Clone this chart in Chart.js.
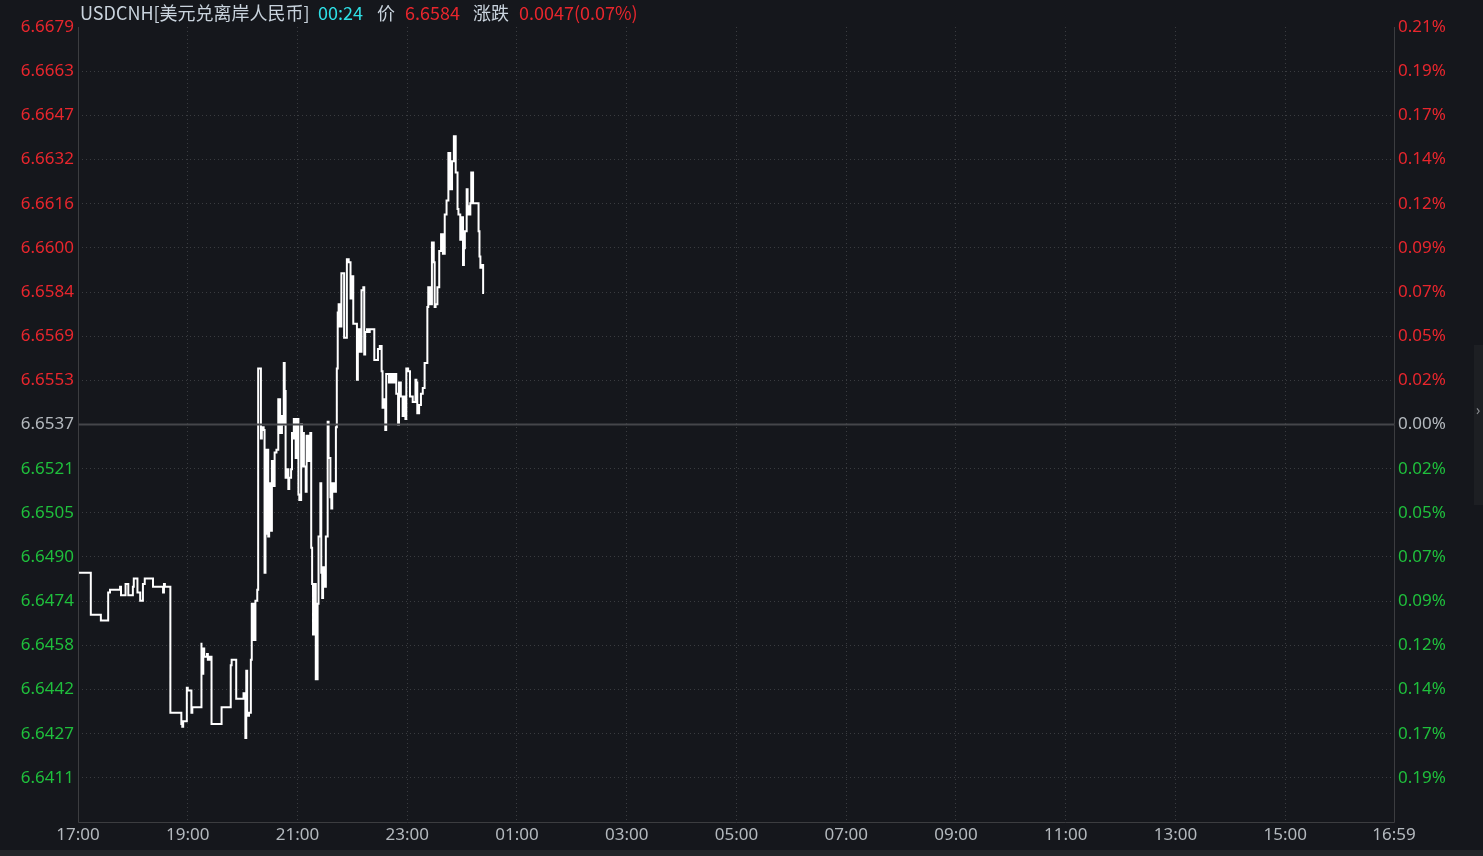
<!DOCTYPE html>
<html>
<head>
<meta charset="utf-8">
<script src="https://cdn.jsdelivr.net/npm/chart.js@4/dist/chart.umd.min.js"></script>
<style>
  html, body { margin: 0; padding: 0; background: #15171c; }
  #wrap { width: 1483px; height: 856px; }
</style>
</head>
<body>
<div id="wrap"><canvas id="fx"></canvas></div>
<script>
// ---- data ----
const symbol = "USDCNH";
const symbolName = "美元兑离岸人民币";
const prevClose = 6.6537;
const topPrice = 6.6679;

// minutes since 17:00
const minutes = [
  0,14,14,25,25,33,33,35,36,46,
  47,52,55,57,60,61,65,68,69,71,
  73,79,82,83,93,94,95,101,101,113,
  114,115,117,119,120,124,125,126,135,135,
  137,138,141,142,144,146,146,157,157,167,
  168,173,175,181,183,184,185,186,187,189,
  190,191,192,194,196,197,198,200,201,203,
  204,205,206,208,209,210,212,213,214,215,
  217,219,221,223,224,225,226,227,228,230,
  231,233,234,235,236,238,239,241,242,244,
  245,246,247,249,250,252,254,255,256,257,
  259,260,262,263,265,266,267,268,270,271,
  273,274,276,277,278,280,282,283,284,285,
  286,288,291,292,294,296,298,299,301,303,
  305,306,308,310,312,313,314,316,317,319,
  321,324,326,328,330,332,333,334,336,337,
  338,340,342,344,346,348,350,351,353,355,
  356,358,359,361,363,365,366,369,370,371,
  373,375,377,379,382,383,385,387,389,390,
  391,393,395,397,399,401,403,405,407,408,
  409,411,413,415,416,418,420,421,422,423,
  425,426,427,429,430,432,433,436,438,439,
  440,442,443,444
];

const prices = [
  6.6484,6.6484,6.6469,6.6469,6.6467,6.6467,6.6473,6.6477,6.6478,6.6478,
  6.6479,6.6476,6.6480,6.6476,6.6476,6.6479,6.6482,6.6477,6.6474,6.6474,
  6.6480,6.6482,6.6482,6.6479,6.6479,6.6477,6.6480,6.6479,6.6434,6.6434,
  6.6430,6.6429,6.6431,6.6431,6.6443,6.6442,6.6434,6.6436,6.6436,6.6459,
  6.6448,6.6457,6.6454,6.6455,6.6453,6.6454,6.6430,6.6430,6.6436,6.6436,
  6.6451,6.6453,6.6439,6.6439,6.6441,6.6425,6.6449,6.6434,6.6433,6.6434,
  6.6453,6.6473,6.6473,6.6460,6.6474,6.6478,6.6557,6.6557,6.6532,6.6536,
  6.6535,6.6484,6.6498,6.6528,6.6497,6.6516,6.6499,6.6524,6.6523,6.6515,
  6.6527,6.6528,6.6546,6.6534,6.6540,6.6537,6.6559,6.6549,6.6518,6.6521,
  6.6514,6.6518,6.6521,6.6534,6.6532,6.6539,6.6525,6.6539,6.6512,6.6510,
  6.6537,6.6522,6.6534,6.6522,6.6513,6.6533,6.6524,6.6534,6.6493,6.6480,
  6.6462,6.6480,6.6446,6.6473,6.6497,6.6516,6.6484,6.6475,6.6486,6.6479,
  6.6497,6.6538,6.6525,6.6511,6.6507,6.6516,6.6513,6.6536,6.6557,6.6577,
  6.6580,6.6572,6.6591,6.6568,6.6568,6.6596,6.6595,6.6582,6.6590,6.6573,
  6.6573,6.6553,6.6571,6.6563,6.6585,6.6586,6.6562,6.6570,6.6571,6.6570,
  6.6571,6.6571,6.6560,6.6560,6.6564,6.6565,6.6556,6.6543,6.6546,6.6535,
  6.6555,6.6555,6.6552,6.6555,6.6552,6.6555,6.6548,6.6537,6.6552,6.6547,
  6.6540,6.6547,6.6539,6.6557,6.6556,6.6547,6.6547,6.6545,6.6553,6.6552,
  6.6541,6.6544,6.6548,6.6550,6.6559,6.6579,6.6586,6.6580,6.6602,6.6595,
  6.6579,6.6580,6.6586,6.6599,6.6605,6.6598,6.6612,6.6617,6.6634,6.6621,
  6.6621,6.6631,6.6640,6.6627,6.6614,6.6612,6.6603,6.6611,6.6594,6.6600,
  6.6606,6.6621,6.6615,6.6612,6.6616,6.6627,6.6616,6.6616,6.6616,6.6606,
  6.6597,6.6593,6.6594,6.6584
];

const priceLabels = ['6.6679','6.6663','6.6647','6.6632','6.6616','6.6600','6.6584','6.6569','6.6553',
  '6.6537','6.6521','6.6505','6.6490','6.6474','6.6458','6.6442','6.6427','6.6411'];
const pctLabels = ['0.21%','0.19%','0.17%','0.14%','0.12%','0.09%','0.07%','0.05%','0.02%',
  '0.00%','0.02%','0.05%','0.07%','0.09%','0.12%','0.14%','0.17%','0.19%'];
const timeLabels = ['17:00','19:00','21:00','23:00','01:00','03:00','05:00','07:00',
  '09:00','11:00','13:00','15:00','16:59'];
const tickMinutes = [0,120,240,360,480,600,720,840,960,1080,1200,1320,1439];

// ---- derived ----
const step = (topPrice - prevClose) / 9;
const baseIdx = priceLabels.indexOf(prevClose.toFixed(4));
const RED = '#e8262d', GREEN = '#1fbf3c', GRAY = '#b4b9be';
const BG = '#15171c', FRAME = '#3c3d40', DOTS = '#3a3c40';
const labelFont = { family: '"Noto Sans", "Liberation Sans", sans-serif', size: 17 };

const points = minutes.map((m, i) => ({ x: m, y: prices[i] }));

function yTicks(scale) {
  scale.ticks = priceLabels.map((_, i) => ({ value: topPrice - i * step }));
}
function tickColor(ctx) {
  if (ctx.index < baseIdx) return RED;
  if (ctx.index > baseIdx) return GREEN;
  return GRAY;
}
function hhmm(m) {
  const t = (17 * 60 + m) % 1440;
  return String(Math.floor(t / 60)).padStart(2, '0') + ':' + String(t % 60).padStart(2, '0');
}

// background, frame, baseline, header
const decor = {
  id: 'decor',
  beforeDraw(chart) {
    const c = chart.ctx;
    c.save();
    c.fillStyle = BG;
    c.fillRect(0, 0, chart.width, chart.height);
    c.fillStyle = '#222428';
    c.fillRect(0, chart.height - 6, chart.width, 6);
    c.fillStyle = '#1d1f23';
    c.fillRect(chart.width - 9, 345, 9, 160);
    c.restore();
  },
  afterDatasetsDraw(chart) {
    const c = chart.ctx, a = chart.chartArea;
    const y = chart.scales.y.getPixelForValue(prevClose);
    c.save();
    c.strokeStyle = '#45464a';
    c.lineWidth = 2;
    c.beginPath();
    c.moveTo(a.left, y);
    c.lineTo(a.right, y);
    c.stroke();
    c.strokeStyle = FRAME;
    c.lineWidth = 1;
    c.beginPath();
    c.moveTo(a.left + 0.5, a.top);
    c.lineTo(a.left + 0.5, a.bottom + 0.5);
    c.lineTo(a.right + 0.5, a.bottom + 0.5);
    c.lineTo(a.right + 0.5, a.top);
    c.stroke();

    // header
    const last = prices[prices.length - 1];
    const diff = last - prevClose;
    const parts = [
      [symbol + '[' + symbolName + ']', '#c9d3dd', 80],
      [hhmm(minutes[minutes.length - 1]), '#2fe0e6', 318],
      ['价', '#c9d3dd', 377],
      [last.toFixed(4), diff >= 0 ? RED : GREEN, 405],
      ['涨跌', '#c9d3dd', 473],
      [diff.toFixed(4) + '(' + (diff / prevClose * 100).toFixed(2) + '%)', diff >= 0 ? RED : GREEN, 519]
    ];
    c.font = '18px "Noto Sans CJK SC", sans-serif';
    c.textBaseline = 'middle';
    let x = 0;
    parts.forEach(([t, col, px]) => {
      x = Math.max(px, x);
      c.fillStyle = col;
      c.fillText(t, x, 13);
      x += c.measureText(t).width + 6;
    });
    c.fillStyle = '#8a8d92';
    c.font = '14px "Noto Sans", sans-serif';
    c.fillText('›', chart.width - 7, 411);
    c.restore();
  }
};

new Chart(document.getElementById('fx'), {
  type: 'line',
  data: {
    datasets: [{
      data: points,
      borderColor: '#ffffff',
      borderWidth: 2,
      pointRadius: 0,
      stepped: 'after',
      fill: false
    }]
  },
  options: {
    responsive: true,
    maintainAspectRatio: false,
    animation: false,
    events: [],
    layout: { padding: { top: 27, left: 0, right: 0, bottom: 0 } },
    plugins: { legend: { display: false }, tooltip: { enabled: false } },
    scales: {
      x: {
        type: 'linear',
        min: 0,
        max: 1439,
        afterBuildTicks: s => { s.ticks = tickMinutes.map(v => ({ value: v })); },
        afterFit: s => { s.height = 34; },
        ticks: {
          color: GRAY,
          font: labelFont,
          padding: 3,
          maxRotation: 0,
          autoSkip: false,
          callback: (v, i) => timeLabels[i]
        },
        grid: {
          drawTicks: false,
          color: c => (c.index === 0 || c.index === tickMinutes.length - 1) ? 'transparent' : DOTS
        },
        border: { display: false, dash: [1, 3] }
      },
      y: {
        position: 'left',
        min: prevClose - 9 * step,
        max: topPrice,
        afterBuildTicks: yTicks,
        afterFit: s => { s.width = 78; },
        ticks: {
          color: tickColor,
          font: labelFont,
          padding: 4,
          autoSkip: false,
          callback: (v, i) => priceLabels[i]
        },
        grid: {
          drawTicks: false,
          color: c => (c.index === 0 || c.index === baseIdx) ? 'transparent' : DOTS
        },
        border: { display: false, dash: [1, 3] }
      },
      y2: {
        position: 'right',
        min: prevClose - 9 * step,
        max: topPrice,
        afterBuildTicks: yTicks,
        afterFit: s => { s.width = 89; },
        ticks: {
          color: tickColor,
          font: labelFont,
          padding: 4,
          autoSkip: false,
          callback: (v, i) => pctLabels[i]
        },
        grid: { display: false, drawTicks: false },
        border: { display: false }
      }
    }
  },
  plugins: [decor]
});
</script>
</body>
</html>
